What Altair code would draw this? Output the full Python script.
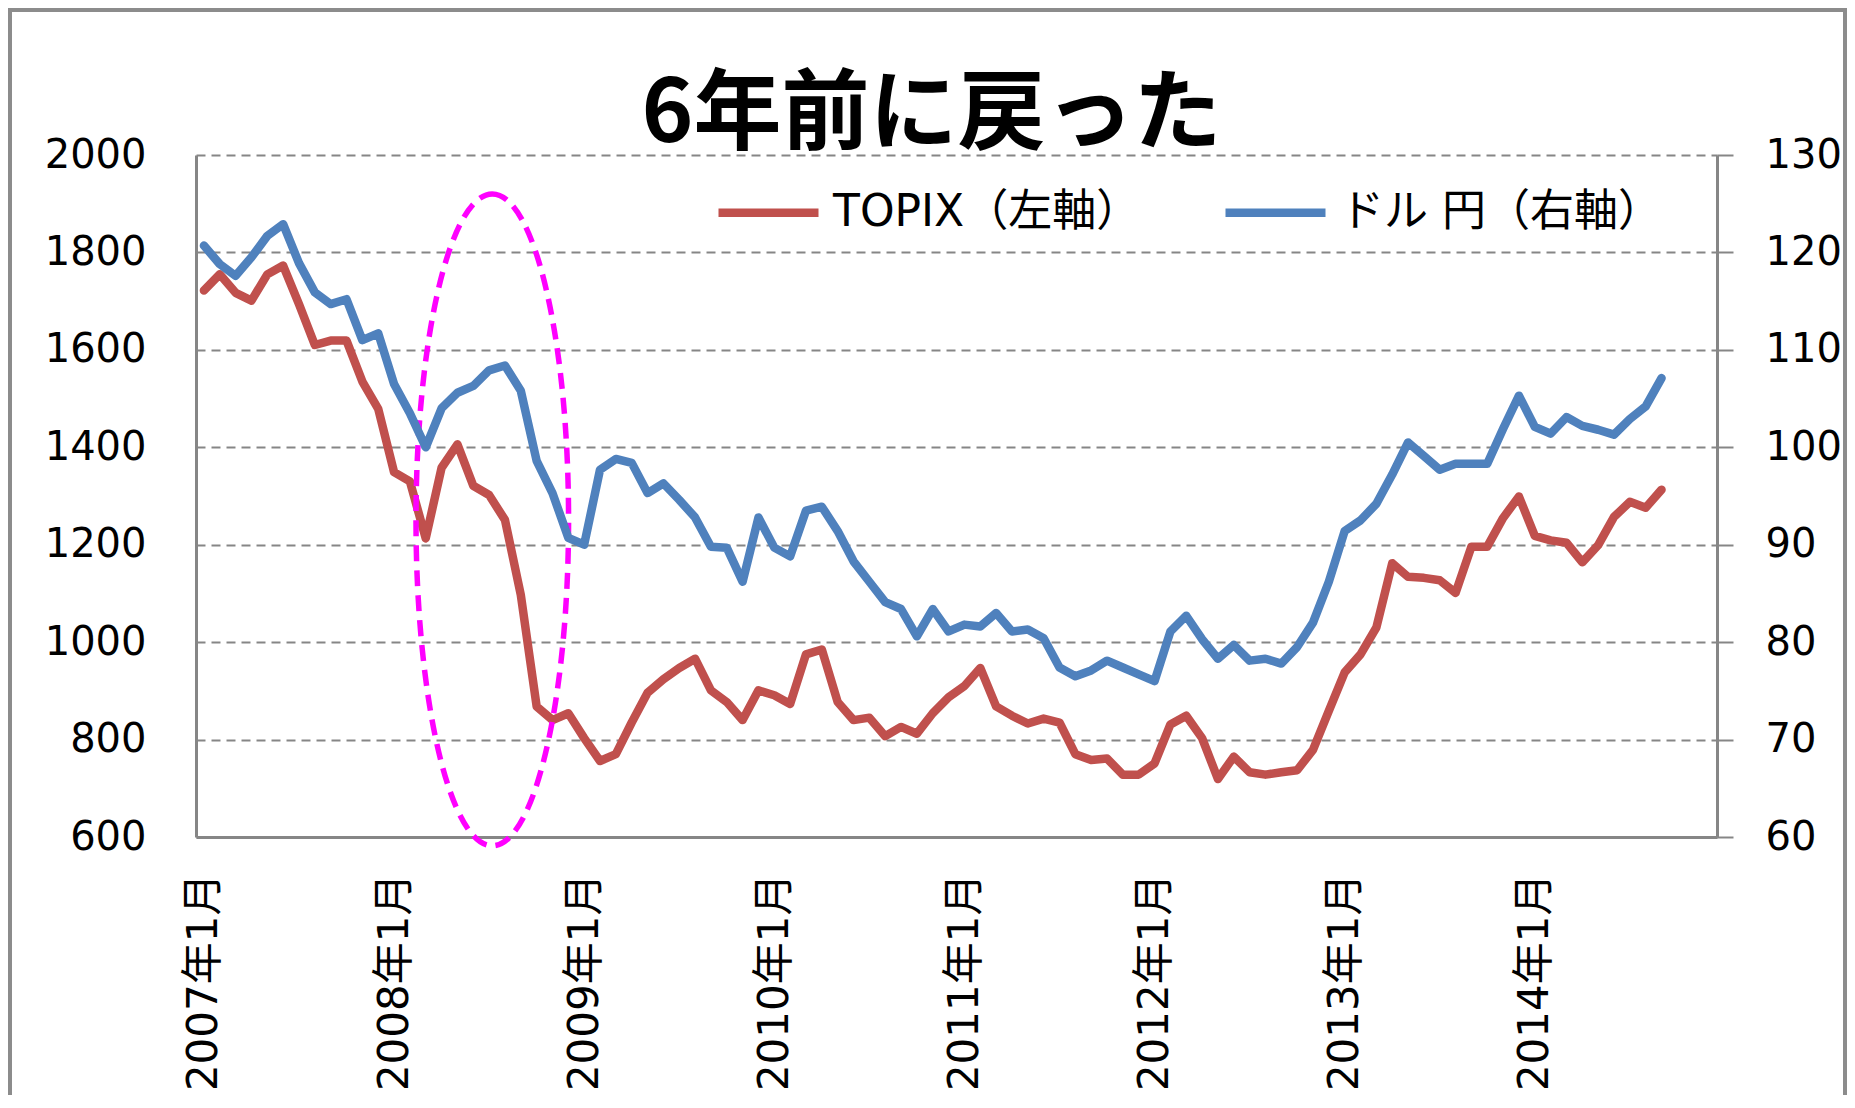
import altair as alt
import pandas as pd

# ---- data (monthly, 2007年1月 .. 2014年9月) ----
topix = [
    1722, 1755, 1717, 1701, 1755, 1773, 1694, 1610, 1619, 1619, 1535, 1479,
    1349, 1330, 1213, 1358, 1406, 1321, 1302, 1251, 1097, 868, 840, 854,
    803, 756, 770, 835, 896, 924, 947, 966, 901, 877, 840, 901,
    891, 873, 975, 985, 877, 840, 845, 807, 826, 812, 854, 887,
    910, 947, 868, 849, 833, 843, 835, 770, 758, 761, 728, 728,
    751, 831, 849, 803, 719, 765, 733, 728, 733, 737, 779, 859,
    938, 975, 1030, 1162, 1134, 1132, 1127, 1101, 1196, 1196, 1255, 1299,
    1218, 1209, 1204, 1164, 1199, 1257, 1288, 1276, 1313,
]
usdjpy = [
    120.7, 118.8, 117.6, 119.5, 121.7, 122.9, 118.9, 115.9, 114.7, 115.2, 111.0, 111.7,
    106.5, 103.5, 100.0, 104.0, 105.6, 106.3, 107.9, 108.4, 105.8, 98.6, 95.3, 90.7,
    90.0, 97.7, 98.8, 98.4, 95.3, 96.3, 94.6, 92.8, 89.8, 89.7, 86.2, 92.8,
    89.7, 88.8, 93.5, 93.9, 91.4, 88.3, 86.2, 84.1, 83.4, 80.6, 83.4, 81.1,
    81.8, 81.6, 83.0, 81.1, 81.3, 80.4, 77.4, 76.5, 77.1, 78.1, 77.4, 76.7,
    76.0, 81.1, 82.7, 80.3, 78.3, 79.7, 78.1, 78.3, 77.8, 79.5, 82.0, 86.2,
    91.4, 92.5, 94.2, 97.2, 100.5, 99.1, 97.7, 98.3, 98.3, 98.3, 101.9, 105.3,
    102.1, 101.4, 103.1, 102.2, 101.8, 101.3, 102.9, 104.2, 107.1,
]
year_labels = ["2007年1月", "2008年1月", "2009年1月", "2010年1月",
               "2011年1月", "2012年1月", "2013年1月", "2014年1月"]
year_label_months = [0, 12, 24, 36, 48, 60, 72, 84]
month_slots = 96
left_ticks = [600, 800, 1000, 1200, 1400, 1600, 1800, 2000]
right_ticks = [60, 70, 80, 90, 100, 110, 120, 130]
series_names = ["TOPIX（左軸）", "ドル 円（右軸）"]
series_colors = ["#C0504D", "#4F81BD"]
title_text = "6年前に戻った"

# highlighted period (dashed ellipse): centre month index and TOPIX level
ellipse_center_month = [18.2]
ellipse_center_topix = [1251]

months = list(range(len(topix)))
df_topix = pd.DataFrame({"m": months, "topix": topix, "series": series_names[0]})
df_usd = pd.DataFrame({"m": months, "usdjpy": usdjpy, "series": series_names[1]})
ell_df = pd.DataFrame({"m": ellipse_center_month, "topix": ellipse_center_topix})

FONT = "DejaVu Sans, Noto Sans CJK JP"
GRAY = "#868686"

label_js = "[" + ",".join("'" + s + "'" for s in year_labels) + "]"

x_scale = alt.Scale(domain=[-0.5, month_slots - 0.5], nice=False, zero=False)
x_enc = alt.X(
    "m:Q", scale=x_scale,
    axis=alt.Axis(values=year_label_months,
                  labelExpr=label_js + "[round(datum.value/12)]",
                  labelAngle=270, labelFontSize=42, labelFont=FONT, labelColor="#000000",
                  labelPadding=36, labelFlush=False, labelOverlap=False, labelLimit=500,
                  ticks=False, grid=False, domainColor=GRAY, domainWidth=3, title=None),
)

left_scale = alt.Scale(domain=[600, 2000], nice=False, zero=False)
y_left = alt.Y(
    "topix:Q", scale=left_scale,
    axis=alt.Axis(orient="left", values=left_ticks, format="d", title=None, ticks=False,
                  labelPadding=50, labelFontSize=40, labelFont=FONT, labelColor="#000000",
                  grid=True, gridDash=[9, 6], gridColor=GRAY, gridWidth=2.2,
                  domainColor=GRAY, domainWidth=3),
)
y_right = alt.Y(
    "usdjpy:Q", scale=alt.Scale(domain=[60, 130], nice=False, zero=False),
    axis=alt.Axis(orient="right", values=right_ticks, format="d", title=None, ticks=True,
                  tickSize=16, tickColor=GRAY, tickWidth=2,
                  labelPadding=32, labelFontSize=40, labelFont=FONT, labelColor="#000000",
                  grid=False, domainColor=GRAY, domainWidth=3),
)

color_scale = alt.Scale(domain=series_names, range=series_colors)
legend = alt.Legend(orient="none", legendX=518, legendY=3, direction="horizontal",
                    title=None, symbolType="stroke", symbolSize=10000,
                    symbolStrokeWidth=8.5, labelFontSize=44, labelFont=FONT,
                    labelColor="#000000", labelOffset=10, columnPadding=67,
                    padding=0, labelLimit=800)
color_enc = alt.Color("series:N", scale=color_scale, legend=legend)

line_props = dict(strokeWidth=8.5, strokeCap="round", strokeJoin="round")

topix_line = alt.Chart(df_topix).mark_line(**line_props).encode(
    x=x_enc, y=y_left, color=color_enc,
)
usd_line = alt.Chart(df_usd).mark_line(**line_props).encode(
    x=x_enc, y=y_right, color=color_enc,
)

# dashed ellipse drawn as a custom symbol (unit path, rx/ry = 0.234)
ellipse_path = ("M0,-1C0.1293,-1,0.2341,-0.5523,0.2341,0C0.2341,0.5523,0.1293,1,0,1"
                "C-0.1293,1,-0.2341,0.5523,-0.2341,0C-0.2341,-0.5523,-0.1293,-1,0,-1Z")
ellipse = alt.Chart(ell_df).mark_point(
    shape=ellipse_path, filled=False, stroke="#FF00FF", strokeWidth=5.5,
    strokeDash=[16, 9], opacity=1, size=424843,
).encode(x=x_enc, y=y_left)

frame = alt.Chart(alt.Data(values=[{"f": 1}])).mark_rect(
    fillOpacity=0, stroke="#8C8C8C", strokeWidth=4,
).encode(x=alt.value(-186), x2=alt.value(1649), y=alt.value(-145), y2=alt.value(1100))

chart = alt.layer(
    frame,
    alt.layer(topix_line, ellipse),
    usd_line,
).resolve_scale(y="independent").properties(
    width=1521, height=682,
    padding={"left": 188, "top": 147, "right": 130, "bottom": 258},
    autosize=alt.AutoSizeParams(type="none"),
    background="white",
    title=alt.TitleParams(title_text, fontSize=88, font="Noto Sans CJK JP",
                          fontWeight="bold", color="#000000", anchor="middle",
                          offset=10, dx=-25, dy=232, baseline="alphabetic"),
).configure_view(strokeWidth=0)

chart.save("out.html", embed_options={"renderer": "svg", "actions": False})
